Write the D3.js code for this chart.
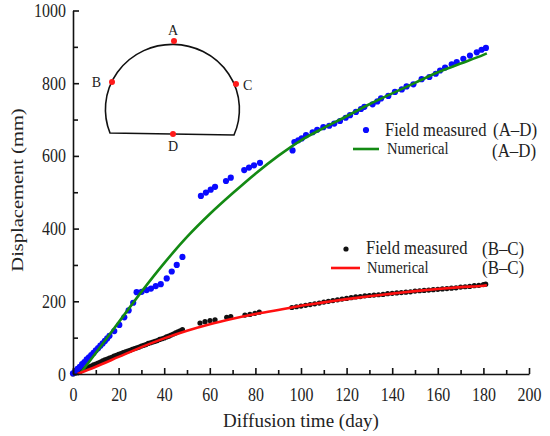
<!DOCTYPE html>
<html>
<head>
<meta charset="utf-8">
<script src="https://cdn.jsdelivr.net/npm/d3@7"></script>
<style>
  html, body { margin: 0; padding: 0; background: #fff; }
  svg { display: block; }
  text { font-family: "Liberation Serif", "Times New Roman", serif; fill: #222; }
</style>
</head>
<body>
<svg id="chart" width="550" height="436"></svg>
<script>
// ---------- data ----------
const xTicks = [0, 20, 40, 60, 80, 100, 120, 140, 160, 180, 200];
const yTicks = [0, 200, 400, 600, 800, 1000];

// Field measured (A–D)
const adDays = [0,1,2,3,4,5,6,7,8,9,10,11,12,13,14,15,16,
  18.1,20.3,22.5,24.4,26.4,27.9,30.1,32.3,34.2,36.3,38.5,41.1,43.3,45.5,48,
  56.1,58.3,60.4,62.3,67.1,69.2,75.1,77.2,79.4,82,
  96.3,97.1,98.8,100.3,102.2,105.1,107.1,109.8,112.4,114.6,117.1,119.6,121.5,124.1,126.3,127.8,
  131.4,133.5,135.1,138.3,141.2,144.2,146.3,149.3,152.9,156.3,159.1,161,163.2,166.1,168.3,171.2,
  174.1,177.1,179.2,181.1];
const adMeasured = [2,8,14,20,27,33,40,46,52,58,65,71,78,84,91,98,105,
  118,135,156,175,196,225,226,231,235,242,247,263,282,300,322,
  490,499,507,515,531,540,561,568,574,581,
  615,638,643,648,657,665,672,679,683,689,696,705,712,721,729,735,
  742,750,758,765,776,783,791,797,811,817,826,835,843,852,858,867,
  876,885,892,897];

// Numerical (A–D)
const adNumDays = [3,10,20,30,40,50,60,70,80,90,100,110,120,130,140,150,160,170,180,181.5];
const adNumerical = [0,58,142,226,305,377,440,497,551,600,643,677,709,742,772,801,830,854,878,882];

// Field measured (B–C)
const bcDays = [0,1,2,3,4,5,6,7,8,9,10,11,12,13,14,15,16,17,18,19,20,21,22,23,24,25,26,27,28,29,30,
  31,32,33,34,35,36,37,38,39,40,41,42,43,44,45,46,47,48,
  55.7,57.9,60.1,62.3,67.4,69.2,75.4,77.6,79.8,81.7,
  96,98,100,102,104,106,108,110,112,114,116,118,120,122,124,126,128,130,132,134,136,138,140,
  142,144,146,148,150,152,154,156,158,160,162,164,166,168,170,172,174,176,178,180,181];
const bcMeasured = [0,3,5,8,11,14,16,19,22,25,27,30,33,36,39,41,44,46,49,51,54,56,59,61,63,65,68,70,72,74,77,
  79,81,84,86,88,90,92,95,97,99,102,104,107,110,113,116,119,122,
  140,144,147,149,156,158,162,164,167,170,
  183,185,187,189,191,193,195,198,200,202,204,206,208,210,212,213,215,216,217,218,219,221,222,
  223,224,225,226,228,229,230,231,232,233,234,235,236,237,239,240,241,243,244,246,247];

// Numerical (B–C)
const bcNumDays = [2,10,20,30,40,50,60,70,80,90,100,110,120,130,140,150,160,170,180,181.5];
const bcNumerical = [0,20,47,74,98,119,137,152,165,176,188,197,206,214,221,228,234,239,243,244];

// Legend
const legendLabels = ["Field measured", "Numerical", "Field measured", "Numerical"];
const legendTags = ["(A–D)", "(A–D)", "(B–C)", "(B–C)"];

// Inset labels
const insetLabels = ["A", "B", "C", "D"];

// ---------- layout ----------
const svg = d3.select("#chart");
const X0 = 73, X1 = 529, Y0 = 374, Y1 = 10.5;
const x = d3.scaleLinear().domain([0, 200]).range([X0, X1]);
const y = d3.scaleLinear().domain([0, 1000]).range([Y0, Y1]);

const BLUE = "#0a0aff", GREEN = "#138a13", RED = "#ff1010", BLACK = "#111";

// ---------- marks ----------
const zip = (a, b) => a.map((d, i) => [d, b[i]]);

// measured points
svg.append("g").selectAll("circle").data(zip(bcDays, bcMeasured)).join("circle")
  .attr("cx", d => x(d[0])).attr("cy", d => y(d[1])).attr("r", 2.6).attr("fill", BLACK);
svg.append("g").selectAll("circle").data(zip(adDays, adMeasured)).join("circle")
  .attr("cx", d => x(d[0])).attr("cy", d => y(d[1])).attr("r", 3.1).attr("fill", BLUE);

// numerical lines
const line = d3.line().x(d => x(d[0])).y(d => y(d[1])).curve(d3.curveMonotoneX);
svg.append("path").datum(zip(adNumDays, adNumerical)).attr("d", line)
  .attr("fill", "none").attr("stroke", GREEN).attr("stroke-width", 2.6);
svg.append("path").datum(zip(bcNumDays, bcNumerical)).attr("d", line)
  .attr("fill", "none").attr("stroke", RED).attr("stroke-width", 2.6);

// ---------- axes ----------
const SX = 0.84;
const fmt = d3.format("d");
const gx = svg.append("g").attr("transform", `translate(0,${Y0})`)
  .call(d3.axisBottom(x).tickValues(xTicks).tickFormat(fmt).tickSize(-6).tickSizeOuter(0).tickPadding(13.5));
svg.append("g").attr("transform", `translate(0,${Y0})`)
  .call(d3.axisBottom(x).tickValues(d3.range(10, 200, 20)).tickSize(-4).tickSizeOuter(0).tickFormat(""))
  .select(".domain").remove();
gx.selectAll("text").attr("font-size", 19).attr("transform", `scale(${SX},1)`);

const gy = svg.append("g").attr("transform", `translate(${X0},0)`)
  .call(d3.axisLeft(y).tickValues(yTicks).tickFormat(fmt).tickSize(-6).tickSizeOuter(0).tickPadding(7));
svg.append("g").attr("transform", `translate(${X0},0)`)
  .call(d3.axisLeft(y).tickValues(d3.range(100, 1000, 200)).tickSize(-5).tickSizeOuter(0).tickFormat(""))
  .select(".domain").remove();
gy.selectAll("text").attr("font-size", 19).attr("x", -7 / SX).attr("transform", `scale(${SX},1)`);

svg.selectAll(".domain, .tick line").attr("stroke", "#111").attr("stroke-width", 1.6);

// axis titles
svg.append("text").attr("x", (X0 + X1) / 2).attr("y", 427).attr("text-anchor", "middle")
  .attr("font-size", 19).text("Diffusion time (day)");
svg.append("text").attr("text-anchor", "middle")
  .attr("transform", `translate(23,190) scale(0.84,1) rotate(-90)`)
  .attr("font-size", 20.5).text("Displacement (mm)");

// ---------- legends ----------
function txt(px, py, s, size, sx) {
  svg.append("text").attr("transform", `translate(${px},${py}) scale(${sx},1)`)
    .attr("font-size", size).text(s);
}
// A–D
svg.append("circle").attr("cx", 366).attr("cy", 130).attr("r", 3.1).attr("fill", BLUE);
txt(385, 136, legendLabels[0], 19, 0.87);
txt(493, 136, legendTags[0], 19, 0.89);
svg.append("line").attr("x1", 353).attr("x2", 379).attr("y1", 149).attr("y2", 149)
  .attr("stroke", GREEN).attr("stroke-width", 2.6);
txt(387, 154, legendLabels[1], 17, 0.86);
txt(492, 157, legendTags[1], 19, 0.89);
// B–C
svg.append("circle").attr("cx", 346).attr("cy", 249).attr("r", 2.6).attr("fill", BLACK);
txt(366, 254, legendLabels[2], 19, 0.87);
txt(482, 255, legendTags[2], 19, 0.89);
svg.append("line").attr("x1", 331).attr("x2", 360).attr("y1", 268).attr("y2", 268)
  .attr("stroke", RED).attr("stroke-width", 2.6);
txt(367, 273, legendLabels[3], 17, 0.86);
txt(482, 274, legendTags[3], 19, 0.89);

// ---------- inset tunnel sketch ----------
const inset = svg.append("g");
inset.append("path")
  .attr("d", "M110,133 A67,65 0 1 1 234,135 Z")
  .attr("fill", "none").attr("stroke", "#111").attr("stroke-width", 1.6);
const insetPts = [[174, 41], [112, 82], [236, 84], [173, 134]];
const insetTextPos = [[173, 35, "middle"], [101, 87, "end"], [243, 90, "start"], [173, 151, "middle"]];
inset.selectAll("circle").data(insetPts).join("circle")
  .attr("cx", d => d[0]).attr("cy", d => d[1]).attr("r", 3).attr("fill", "#ff1a1a");
inset.selectAll("text").data(insetLabels).join("text")
  .attr("x", (d, i) => insetTextPos[i][0]).attr("y", (d, i) => insetTextPos[i][1])
  .attr("text-anchor", (d, i) => insetTextPos[i][2])
  .attr("font-size", 14).attr("fill", "#333").text(d => d);
</script>
</body>
</html>
